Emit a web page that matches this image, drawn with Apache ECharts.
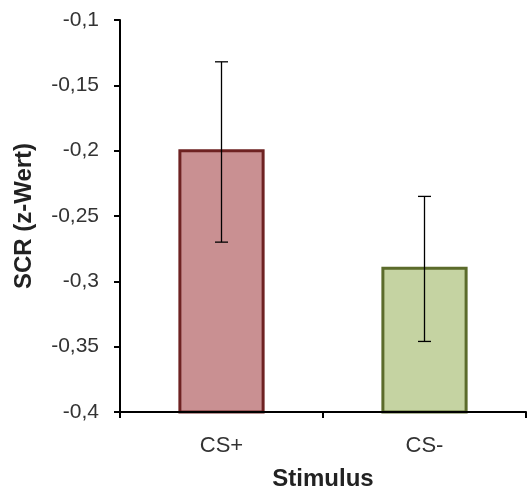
<!DOCTYPE html>
<html>
<head>
<meta charset="utf-8">
<script src="https://cdn.jsdelivr.net/npm/echarts@6/dist/echarts.min.js"></script>
<style>html,body{margin:0;padding:0;background:#fff;}#c{width:527px;height:496px;}</style>
</head>
<body>
<div id="c"></div>
<script>
var categories = ['CS+', 'CS-'];
var means = [-0.2, -0.29];
var errUpper = [-0.132, -0.235];
var errLower = [-0.27, -0.346];
var yTicks = [-0.4, -0.35, -0.3, -0.25, -0.2, -0.15, -0.1];
var fills = ['#C99092', '#C5D3A2'];
var borders = ['#6E2222', '#5B6B2B'];
var yMin = -0.4, yMax = -0.1;

var chart = echarts.init(document.getElementById('c'));
var barData = means.map(function (v, i) { return [i, v]; });
var errData = means.map(function (v, i) { return [i, errLower[i], errUpper[i]]; });
var font = '"Liberation Sans", Arial, sans-serif';

chart.setOption({
  animation: false,
  grid: { left: 120, top: 20, width: 406, bottom: 80, containLabel: false },
  xAxis: {
    type: 'category',
    data: categories,
    z: 5,
    name: 'Stimulus',
    nameLocation: 'middle',
    nameGap: 55,
    nameTextStyle: { fontFamily: font, fontWeight: 'bold', fontSize: 24, color: '#222' },
    axisLine: { lineStyle: { color: '#000', width: 2 } },
    axisTick: { show: true, length: 6, lineStyle: { color: '#000', width: 2 } },
    axisLabel: { fontFamily: font, fontSize: 22, color: '#333', margin: 23 },
    splitLine: { show: false }
  },
  yAxis: {
    type: 'value',
    min: yMin,
    max: yMax,
    interval: 0.05,
    z: 5,
    name: 'SCR (z-Wert)',
    nameLocation: 'middle',
    nameGap: 84,
    nameTextStyle: { fontFamily: font, fontWeight: 'bold', fontSize: 24, color: '#222' },
    axisLine: { show: true, lineStyle: { color: '#000', width: 2 } },
    axisTick: { show: true, length: 6, lineStyle: { color: '#000', width: 2 } },
    axisLabel: {
      fontFamily: font, fontSize: 21, color: '#333', margin: 21,
      formatter: function (v) { return String(Math.round(v * 100) / 100).replace('.', ','); }
    },
    splitLine: { show: false }
  },
  series: [
    {
      type: 'custom',
      z: 2,
      data: barData,
      renderItem: function (params, api) {
        var i = api.value(0);
        var top = api.coord([i, api.value(1)]);
        var base = api.coord([i, yMin]);
        var w = api.size([1, 0])[0] * 0.41;
        return {
          type: 'rect',
          shape: { x: top[0] - w / 2, y: top[1], width: w, height: base[1] - top[1] },
          style: { fill: fills[i], stroke: borders[i], lineWidth: 3 }
        };
      }
    },
    {
      type: 'custom',
      z: 3,
      data: errData,
      renderItem: function (params, api) {
        var i = api.value(0);
        var lo = api.coord([i, api.value(1)]);
        var hi = api.coord([i, api.value(2)]);
        var c = 6.5;
        var st = { stroke: '#000', lineWidth: 1.3 };
        return {
          type: 'group',
          children: [
            { type: 'line', shape: { x1: lo[0], y1: lo[1], x2: hi[0], y2: hi[1] }, style: st },
            { type: 'line', shape: { x1: lo[0] - c, y1: lo[1], x2: lo[0] + c, y2: lo[1] }, style: st },
            { type: 'line', shape: { x1: hi[0] - c, y1: hi[1], x2: hi[0] + c, y2: hi[1] }, style: st }
          ]
        };
      }
    }
  ]
});
</script>
</body>
</html>
